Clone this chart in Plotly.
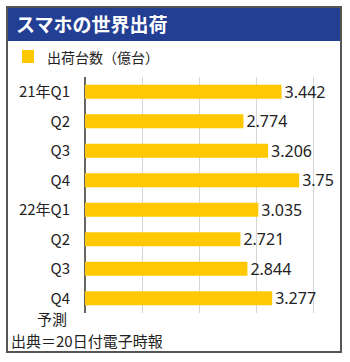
import plotly.graph_objects as go

categories = ["21年Q1", "Q2", "Q3", "Q4", "22年Q1", "Q2", "Q3", "Q4"]
values = [3.442, 2.774, 3.206, 3.75, 3.035, 2.721, 2.844, 3.277]
value_labels = ["3.442", "2.774", "3.206", "3.75", "3.035", "2.721", "2.844", "3.277"]
title_text = "スマホの世界出荷"
legend_text = "出荷台数（億台）"
note_text = "予測"
source_text = "出典＝20日付電子時報"

W, H = 350, 362
L, R, T, B = 85, 8, 77, 49
PW, PH = W - L - R, H - T - B
FONT = "Noto Sans CJK JP, Noto Sans, sans-serif"
TXT = "#222222"
YEL = "#FFC800"
BLUE = "#233F94"

def px(x):
    return (x - L) / PW

def py(y):
    return (H - B - y) / PH

pos = list(range(len(categories)))

fig = go.Figure(go.Bar(
    x=values, y=pos, orientation="h",
    marker=dict(color=YEL, line=dict(width=0)),
    width=0.48,
    text=value_labels, textposition="outside", constraintext="none",
    textfont=dict(size=16, color=TXT, family="Noto Sans, sans-serif"),
    cliponaxis=False, showlegend=False, hoverinfo="skip",
))

fig.update_layout(
    width=W, height=H,
    margin=dict(l=L, r=R, t=T, b=B),
    paper_bgcolor="white", plot_bgcolor="white",
    font=dict(family=FONT, color=TXT),
    xaxis=dict(range=[0, 4.5], dtick=1, showgrid=True, gridcolor="#D5D5D5", gridwidth=1,
               showticklabels=False, zeroline=True, zerolinecolor="#666666", zerolinewidth=1.5,
               fixedrange=True),
    yaxis=dict(range=[7.5, -0.5], tickvals=pos, ticktext=categories, showgrid=False,
               zeroline=False, ticks="", ticklabelstandoff=14,
               tickfont=dict(size=15, color=TXT, family=FONT)),
    bargap=0.5,
)

shapes = [
    dict(type="rect", xref="paper", yref="paper", x0=px(7), x1=px(341), y0=py(41), y1=py(7),
         fillcolor=BLUE, line=dict(width=0), layer="above"),
    dict(type="rect", xref="paper", yref="paper", x0=px(7), x1=px(341), y0=py(352), y1=py(7),
         fillcolor="rgba(0,0,0,0)", line=dict(color="#555555", width=2), layer="above"),
    dict(type="rect", xref="paper", yref="paper", x0=px(22), x1=px(34), y0=py(63), y1=py(50),
         fillcolor=YEL, line=dict(width=0), layer="above"),
]
fig.update_layout(shapes=shapes)

annotations = [
    dict(text="<b>" + title_text + "</b>", x=px(14), y=py(24), xref="paper", yref="paper",
         xanchor="left", yanchor="middle", showarrow=False,
         font=dict(size=19, color="white", family=FONT)),
    dict(text=legend_text, x=px(45), y=py(57), xref="paper", yref="paper",
         xanchor="left", yanchor="middle", showarrow=False,
         font=dict(size=14, color=TXT, family=FONT)),
    dict(text=note_text, x=px(69), y=py(318), xref="paper", yref="paper",
         xanchor="right", yanchor="middle", showarrow=False,
         font=dict(size=15, color=TXT, family=FONT)),
    dict(text=source_text, x=px(9), y=py(340), xref="paper", yref="paper",
         xanchor="left", yanchor="middle", showarrow=False,
         font=dict(size=15, color=TXT, family=FONT)),
]
fig.update_layout(annotations=annotations)

fig.write_html("out.html")
